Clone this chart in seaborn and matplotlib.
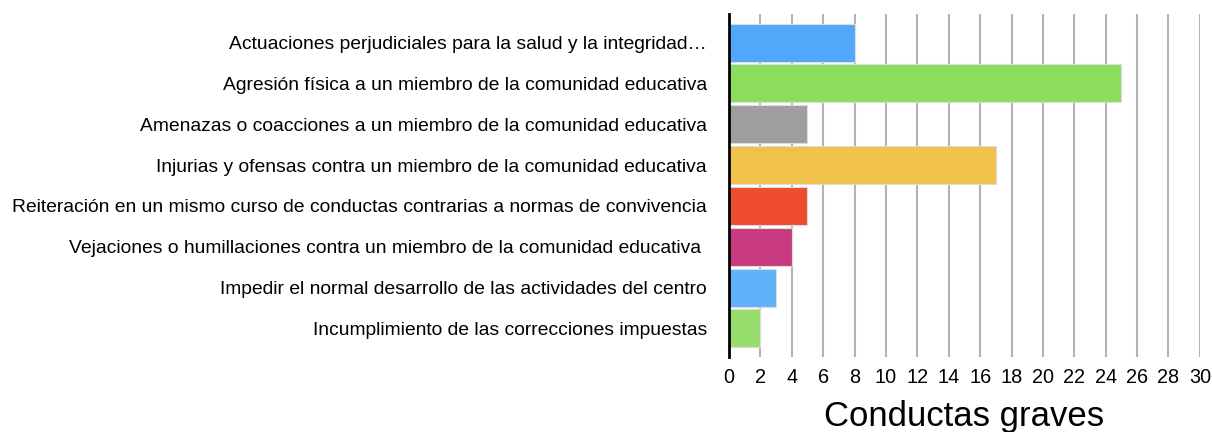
import matplotlib
matplotlib.use('Agg')
import matplotlib.pyplot as plt
import seaborn as sns
import pandas as pd

# data
categorias = [
    'Actuaciones perjudiciales para la salud y la integridad…',
    'Agresión física a un miembro de la comunidad educativa',
    'Amenazas o coacciones a un miembro de la comunidad educativa',
    'Injurias y ofensas contra un miembro de la comunidad educativa',
    'Reiteración en un mismo curso de conductas contrarias a normas de convivencia',
    'Vejaciones o humillaciones contra un miembro de la comunidad educativa ',
    'Impedir el normal desarrollo de las actividades del centro',
    'Incumplimiento de las correcciones impuestas',
]
valores = [8, 25, 5, 17, 5, 4, 3, 2]
colores = ['#51A7F9', '#8CDC5E', '#9E9E9E', '#F0C24C',
           '#EE4B2F', '#C83B7E', '#5FB1F9', '#97DE6D']
ticks_x = list(range(0, 31, 2))

df = pd.DataFrame({'Conducta': categorias, 'Total': valores})

sns.set_style('white')
plt.rcParams['font.family'] = ['Liberation Sans', 'DejaVu Sans']
plt.rcParams['text.color'] = 'black'
plt.rcParams['xtick.color'] = 'black'
plt.rcParams['ytick.color'] = 'black'
plt.rcParams['axes.labelcolor'] = 'black'

fig = plt.figure(figsize=(12.12, 4.32), dpi=100)
ax = fig.add_axes([0.6015, 0.1736, 0.3885, 0.794])

sns.barplot(data=df, y='Conducta', x='Total', hue='Conducta', palette=colores,
            orient='h', width=0.93, legend=False, edgecolor='#dcdcdc',
            linewidth=0.8, saturation=1, ax=ax, zorder=3)

ax.set_xlim(0, 30)
ax.set_ylim(7.7, -0.7)
ax.set_xticks(ticks_x)
ax.xaxis.grid(True, color='#b3b3b3', linewidth=1.5, zorder=0)
ax.yaxis.grid(False)
ax.set_axisbelow(True)
for s in ['top', 'right', 'bottom']:
    ax.spines[s].set_visible(False)
ax.spines['left'].set_color('black')
ax.spines['left'].set_linewidth(2)
ax.spines['left'].set_zorder(4)

ax.tick_params(axis='y', length=0, pad=16, labelsize=13.9)
ax.tick_params(axis='x', length=0, pad=8, labelsize=14.3)
ax.set_ylabel('')
ax.set_xlabel('Conductas graves', fontsize=25, labelpad=9)

fig.savefig('out.png', dpi=100)
